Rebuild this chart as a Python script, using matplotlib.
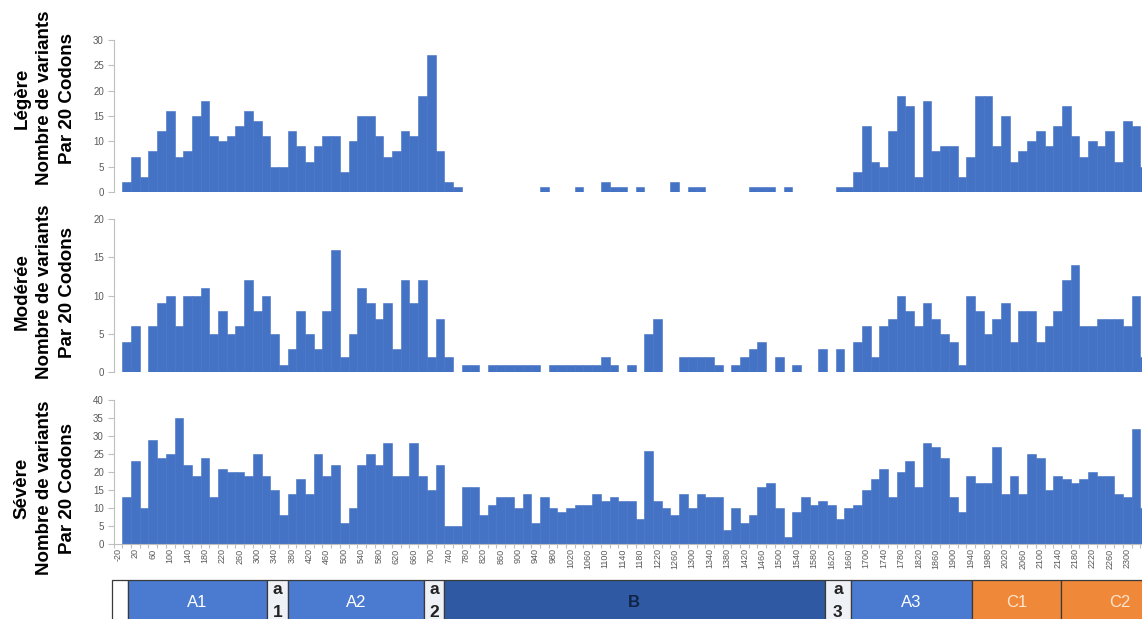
import numpy as np
import matplotlib
matplotlib.use("Agg")
import matplotlib.pyplot as plt
from matplotlib.patches import Rectangle

plt.rcParams["font.family"] = ["Liberation Sans", "DejaVu Sans"]

# codon bins (start of each 20-codon window)
codons = list(range(-20, 2341, 20))

legere = ([0]
          + [2, 7, 3, 8, 12, 16, 7, 8, 15, 18, 11, 10, 11, 13, 16, 14, 11, 5, 5, 12,
             9, 6, 9, 11, 11, 4, 10, 15, 15, 11, 7, 8, 12, 11, 19, 27, 8, 2, 1]
          + [0] * 9 + [1] + [0] * 3 + [1] + [0] * 2 + [2, 1, 1, 0, 1] + [0] * 3
          + [2, 0, 1, 1] + [0] * 5 + [1, 1, 1, 0, 1] + [0] * 5 + [1, 1]
          + [4, 13, 6, 5, 12, 19, 17, 3, 18, 8, 9, 9, 3, 7, 19, 19, 9, 15, 6, 8,
             10, 12, 9, 13, 17, 11, 7, 10, 9, 12, 6, 14, 13, 5])

moderee = ([0]
           + [4, 6, 0, 6, 9, 10, 6, 10, 10, 11, 5, 8, 5, 6, 12, 8, 10, 5, 1, 3,
              8, 5, 3, 8, 16, 2, 5, 11, 9, 7, 9, 3, 12, 9, 12, 2, 7, 2, 0, 1, 1]
           + [0] + [1] * 6 + [0] + [1] * 6 + [2, 1, 0, 1, 0, 5, 7, 0, 0]
           + [2, 2, 2, 2, 1, 0, 1, 2, 3, 4, 0, 2, 0, 1, 0, 0, 3, 0, 3, 0]
           + [4, 6, 2, 6, 7, 10, 8, 6, 9, 7, 5, 4, 1, 10, 8, 5, 7, 9, 4, 8,
              8, 4, 6, 8, 12, 14, 6, 6, 7, 7, 7, 6, 10, 2])

severe = ([0]
          + [13, 23, 10, 29, 24, 25, 35, 22, 19, 24, 13, 21, 20, 20, 19, 25, 19, 15, 8, 14,
             18, 14, 25, 19, 22, 6, 10, 22, 25, 22, 28, 19, 19, 28, 19, 15, 22, 5, 5, 16,
             16, 8]
          + [11, 13, 13, 10, 14, 6, 13, 10, 9, 10, 11, 11, 14, 12, 13, 12, 12, 7, 26, 12,
             10, 8, 14, 10, 14, 13, 13, 4, 10, 6, 8, 16, 17, 10, 2, 9, 13, 11, 12, 11, 7]
          + [10, 11, 15, 18, 21, 13, 20, 23, 16, 28, 27, 24, 13, 9, 19, 17, 17, 27, 14, 19,
             14, 25, 24, 15, 19, 18, 17, 18, 20, 19, 19, 14, 13, 32, 10])

assert len(legere) == len(moderee) == len(severe) == len(codons)

panel_titles = ["Légère", "Modérée", "Sévère"]
panel_ymax = [30, 20, 40]
last_label = 2300

# FVIII domain map under the x axis
domain_names = ["", "A1", "a\n1", "A2", "a\n2", "B", "a\n3", "A3", "C1", "C2"]
domain_kind = ["blank", "A", "a", "A", "a", "B", "a", "A", "C", "C"]
domain_start = [-34, 3, 322, 371, 683, 729, 1605, 1665, 1943, 2148]
domain_end = [3, 322, 371, 683, 729, 1605, 1665, 1943, 2148, 2420]

BAR = "#4472C4"
GRID = "#bfbfbf"
TXT = "#595959"
fill = {"blank": "#ffffff", "A": "#4a7bd0", "a": "#eef1f6", "B": "#2f59a3", "C": "#f0883a"}
tcol = {"blank": "k", "A": "white", "a": "#222222", "B": "#0f2446", "C": "#fbe6cf"}

W, H = 1142, 619
fig = plt.figure(figsize=(W / 100, H / 100), dpi=100)

left = 113.65 / W
width = 1 - left
# (y of zero, y of top) in pixels for each panel
panel_px = [(192, 40), (372.3, 219), (544.3, 400)]
label_y = [98, 292, 488]

axes = []
for i, (vals, title, ymax) in enumerate(zip([legere, moderee, severe], panel_titles, panel_ymax)):
    y0, y1 = panel_px[i]
    ax = fig.add_axes([left, (H - y0) / H, width, (y0 - y1) / H])
    ax.bar(codons, vals, width=20, color=BAR, edgecolor=BAR, linewidth=0.4)
    ax.set_xlim(-30, 2334)
    ax.set_ylim(0, ymax)
    ax.set_yticks(range(0, ymax + 1, 5))
    ax.tick_params(axis="y", labelsize=7, labelcolor=TXT, color=GRID, length=4, width=0.8, pad=3)
    for s in ["top", "right"]:
        ax.spines[s].set_visible(False)
    ax.spines["left"].set_color(GRID)
    if i < 2:
        ax.spines["bottom"].set_visible(False)
        ax.set_xticks([])
    else:
        ax.spines["bottom"].set_color(GRID)
        shown = [c for c in codons[::2] if c <= last_label]
        ax.set_xticks(shown)
        ax.set_xticklabels([str(c) for c in shown], rotation=90, fontsize=6.5, color=TXT)
        ax.set_xticks(np.array(codons) - 10, minor=True)
        ax.tick_params(axis="x", which="major", length=0, pad=3)
        ax.tick_params(axis="x", which="minor", length=3, color=GRID, width=0.8)
    fig.text(45 / W, (H - label_y[i]) / H, f"{title}\nNombre de variants\nPar 20 Codons",
             rotation=90, ha="center", va="center", multialignment="center",
             fontsize=13.5, fontweight="bold", linespacing=1.45)
    axes.append(ax)

# domain boxes
dax = fig.add_axes([left, (H - 640) / H, width, 60 / H], sharex=axes[2])
dax.set_ylim(0, 1)
dax.axis("off")
for name, kind, a, b in zip(domain_names, domain_kind, domain_start, domain_end):
    dax.add_patch(Rectangle((a, 0), b - a, 1, facecolor=fill[kind], edgecolor="#3a3a3a",
                            linewidth=0.9, clip_on=False))
    if not name:
        continue
    mid = (a + b) / 2
    if kind == "a":
        dax.text(mid, 0.97, name, ha="center", va="top", fontsize=12.5, color=tcol[kind],
                 linespacing=1.65, fontweight="bold")
    else:
        dax.text(mid, 0.62, name, ha="center", va="center", fontsize=12, color=tcol[kind],
                 fontweight="bold" if kind == "B" else "normal")

fig.savefig("out.png", dpi=100)
